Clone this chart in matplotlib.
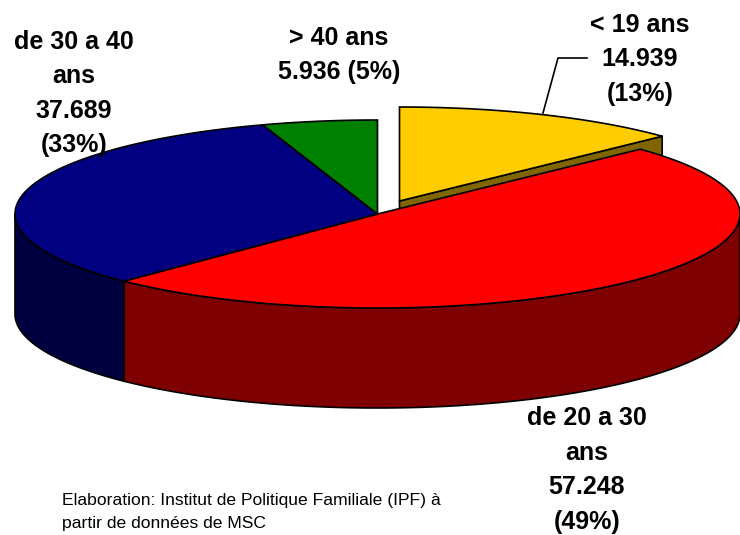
import numpy as np
import matplotlib
matplotlib.use('Agg')
import matplotlib.pyplot as plt
from matplotlib.patches import Polygon

plt.rcParams['font.family'] = ['Liberation Sans', 'DejaVu Sans']

categories = ['< 19 ans', 'de 20 a 30 ans', 'de 30 a 40 ans', '> 40 ans']
values = [14939, 57248, 37689, 5936]
top_colors = ['#FFCC00', '#FF0000', '#000080', '#008000']
side_colors = ['#7F6600', '#7F0000', '#000040', '#004000']

label_texts = ['< 19 ans\n14.939\n(13%)', 'de 20 a 30\nans\n57.248\n(49%)',
               'de 30 a 40\nans\n37.689\n(33%)', '> 40 ans\n5.936 (5%)']
label_pos = [(640, 13), (587, 406), (74, 30), (339, 26)]
label_spacing = [1.55, 1.56, 1.55, 1.55]
note = 'Elaboration: Institut de Politique Familiale (IPF) à\npartir de données de MSC'

# pie geometry, in pixels of the picture
cx, cy = 377.5, 214.
rx, ry = 362.5, 94.
depth = 100.
explode = [(22, -13), (0, 0), (0, 0), (0, 0)]


def rim(t0, t1, dx=0, dy=0):
    # t is degrees clockwise from 12 o'clock
    t = np.radians(np.linspace(t0, t1, 200))
    return np.column_stack((cx + dx + rx*np.sin(t), cy + dy - ry*np.cos(t)))


fig = plt.figure(figsize=(7.4, 5.35), dpi=100)
ax = fig.add_axes([0, 0, 1, 1])
ax.set_xlim(0, 740)
ax.set_ylim(535, 0)
ax.axis('off')

edges = np.concatenate(([0], np.cumsum(values))) / float(sum(values)) * 360.

# sides first so that the top faces cover them
# radial face of the pulled out slice
dx, dy = explode[0]
p = rim(edges[1], edges[1], dx, dy)[0]
apex = (cx + dx, cy + dy)
ax.add_patch(Polygon([apex, p, (p[0], p[1] + depth), (apex[0], apex[1] + depth)],
                     fc=side_colors[0], ec='k', lw=1.2, zorder=1))

for i in [1, 2]:
    t0 = max(edges[i], 90.)
    t1 = min(edges[i + 1], 270.)
    arc = rim(t0, t1)
    wall = np.vstack((arc, (arc + [0, depth])[::-1]))
    ax.add_patch(Polygon(wall, fc=side_colors[i], ec='k', lw=1.2, zorder=2))

for i in range(4):
    dx, dy = explode[i]
    pts = np.vstack(([cx + dx, cy + dy], rim(edges[i], edges[i + 1], dx, dy)))
    ax.add_patch(Polygon(pts, fc=top_colors[i], ec='k', lw=1.2, zorder=3 + (i == 0) * -2))

# leader line of the first label
ax.plot([543, 558, 587], [113, 58, 58], color='k', lw=1.2, zorder=4)

for txt, (x, y), ls in zip(label_texts, label_pos, label_spacing):
    ax.text(x, y, txt, ha='center', va='top', fontsize=18, fontweight='bold',
            linespacing=ls, zorder=5)

ax.text(62, 493, note, ha='left', va='top', fontsize=12.6, linespacing=1.68, zorder=5)

fig.savefig('out.png', dpi=100)
